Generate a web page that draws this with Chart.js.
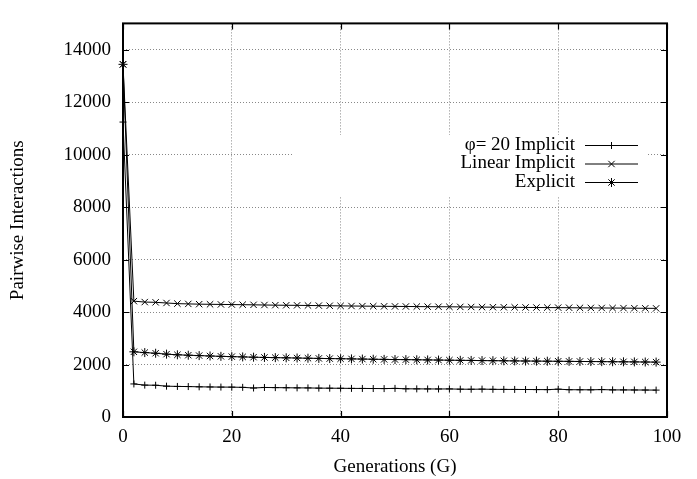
<!DOCTYPE html>
<html>
<head>
<meta charset="utf-8">
<script src="https://cdn.jsdelivr.net/npm/chart.js"></script>
<style>
html,body{margin:0;padding:0;background:#fff;}
canvas{display:block;}
</style>
</head>
<body>
<canvas id="c" width="697" height="479"></canvas>
<script>
// ---- data ----
const generations = [0,2,4,6,8,10,12,14,16,18,20,22,24,26,28,30,32,34,36,38,40,42,44,46,48,50,52,54,56,58,60,62,64,66,68,70,72,74,76,78,80,82,84,86,88,90,92,94,96,98];
const seriesNames = ["\u03c6= 20 Implicit", "Linear Implicit", "Explicit"];
const phi20Implicit = [11240,1260,1215,1210,1175,1165,1160,1150,1145,1140,1138,1130,1105,1125,1120,1115,1110,1108,1100,1098,1095,1090,1088,1085,1083,1090,1075,1072,1070,1068,1070,1060,1058,1062,1055,1052,1050,1048,1045,1043,1060,1040,1038,1036,1045,1033,1032,1030,1028,1025];
const linearImplicit = [13440,4415,4380,4370,4345,4320,4310,4300,4295,4290,4285,4280,4275,4268,4262,4258,4255,4250,4245,4240,4235,4230,4226,4222,4218,4215,4212,4208,4205,4202,4200,4196,4192,4188,4185,4182,4180,4176,4172,4170,4168,4165,4160,4158,4155,4152,4150,4146,4143,4140];
const explicit = [13440,2484,2455,2430,2395,2370,2355,2340,2325,2312,2300,2290,2280,2270,2262,2255,2248,2240,2233,2226,2220,2214,2208,2202,2196,2190,2186,2180,2175,2170,2165,2160,2156,2150,2146,2142,2138,2134,2130,2127,2124,2120,2116,2113,2110,2106,2103,2100,2096,2092];
const xTicks = [0,20,40,60,80,100];
const yTicks = [0,2000,4000,6000,8000,10000,12000,14000];
const xTitle = "Generations (G)";
const yTitle = "Pairwise Interactions";

const FONT = "'Liberation Serif', 'DejaVu Serif', serif";
const styles = ['cross','crossRot','star'];
const radii = [3.5,4.5,4.5];

function pts(arr){ return generations.map((g,i)=>({x:g,y:arr[i]})); }

function drawMarker(ctx, style, r, x, y){
  ctx.beginPath();
  if(style==='cross'||style==='star'){
    ctx.moveTo(x-r,y); ctx.lineTo(x+r,y);
    ctx.moveTo(x,y-r); ctx.lineTo(x,y+r);
  }
  if(style==='crossRot'||style==='star'){
    const d=r*Math.SQRT1_2;
    ctx.moveTo(x-d,y-d); ctx.lineTo(x+d,y+d);
    ctx.moveTo(x-d,y+d); ctx.lineTo(x+d,y-d);
  }
  ctx.stroke();
}

const framePlugin = {
  id:'frame',
  beforeDatasetsDraw(chart){
    const ctx=chart.ctx;
    ctx.save();
    ctx.fillStyle='#fff';
    ctx.fillRect(293,135,355,61); // key box blanking
    ctx.restore();
  },
  afterDatasetsDraw(chart){
    const ctx=chart.ctx, a=chart.chartArea;
    const xs=chart.scales.x, ys=chart.scales.y;
    ctx.save();
    ctx.strokeStyle='#000';
    ctx.lineWidth=1.2;
    ctx.beginPath();
    yTicks.forEach(v=>{
      const p=Math.round(ys.getPixelForValue(v))+0.5;
      ctx.moveTo(a.left,p); ctx.lineTo(a.left+6,p);
      ctx.moveTo(a.right,p); ctx.lineTo(a.right-6,p);
    });
    xTicks.forEach(v=>{
      const p=Math.round(xs.getPixelForValue(v))+0.5;
      ctx.moveTo(p,a.bottom); ctx.lineTo(p,a.bottom-6);
      ctx.moveTo(p,a.top); ctx.lineTo(p,a.top+6);
    });
    ctx.stroke();
    ctx.lineWidth=2;
    ctx.strokeRect(a.left,a.top,a.right-a.left,a.bottom-a.top);
    // key
    ctx.font="19px "+FONT;
    ctx.fillStyle='#000';
    ctx.textAlign='right';
    ctx.textBaseline='middle';
    const rows=[145,163.5,182];
    ctx.lineWidth=1;
    seriesNames.forEach((n,i)=>{
      const y=rows[i];
      ctx.fillText(n,575,y);
      ctx.beginPath(); ctx.moveTo(585,y+0.5); ctx.lineTo(638,y+0.5); ctx.stroke();
      drawMarker(ctx,styles[i],radii[i],611.5,y+0.5);
    });
    ctx.restore();
  }
};

const datasets=[phi20Implicit,linearImplicit,explicit].map((arr,i)=>({
  label:seriesNames[i],
  data:pts(arr),
  borderColor:'#000',
  backgroundColor:'#000',
  borderWidth:1,
  pointStyle:styles[i],
  pointRadius:radii[i],
  pointBorderWidth:1,
  pointBorderColor:'#000',
  pointHoverRadius:radii[i],
  tension:0,
  clip:false
}));

new Chart(document.getElementById('c'),{
  type:'line',
  data:{datasets},
  options:{
    responsive:false,
    animation:false,
    devicePixelRatio:1,
    layout:{padding:{top:8,right:30,left:0,bottom:0}},
    plugins:{legend:{display:false},tooltip:{enabled:false}},
    scales:{
      x:{
        type:'linear',min:0,max:100,
        afterBuildTicks(s){ s.ticks=xTicks.map(v=>({value:v})); },
        afterFit(s){ s.height=62; },
        ticks:{color:'#000',font:{family:FONT,size:19},padding:9,maxRotation:0,callback:v=>String(v)},
        grid:{color:'#888',lineWidth:1,drawTicks:false},
        border:{display:false,dash:[1,2]},
        title:{display:true,text:xTitle,color:'#000',font:{family:FONT,size:19},padding:{top:0,bottom:1}}
      },
      y:{
        type:'linear',min:0,max:15000,
        afterBuildTicks(s){ s.ticks=yTicks.map(v=>({value:v})); },
        afterFit(s){ s.width=123; },
        ticks:{color:'#000',font:{family:FONT,size:19},padding:12,callback:v=>String(v)},
        grid:{color:'#888',lineWidth:1,drawTicks:false},
        border:{display:false,dash:[1,2]},
        title:{display:true,text:yTitle,color:'#000',font:{family:FONT,size:19},padding:{top:7,bottom:0}}
      }
    }
  },
  plugins:[framePlugin]
});
</script>
</body>
</html>
